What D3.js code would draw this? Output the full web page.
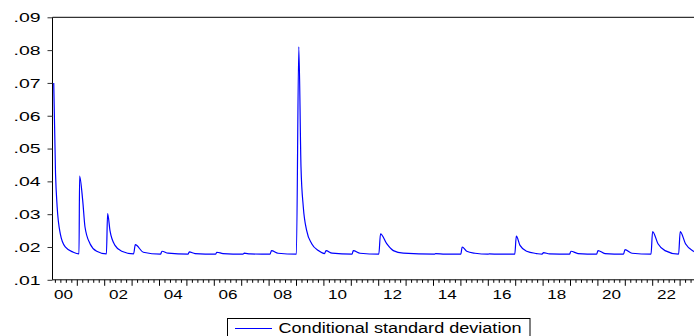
<!DOCTYPE html>
<html>
<head>
<meta charset="utf-8">
<script src="https://cdn.jsdelivr.net/npm/d3@7/dist/d3.min.js"></script>
<style>
  html, body { margin: 0; padding: 0; background: #fff; }
  svg { display: block; }
  text { font-family: "Liberation Sans", Arial, sans-serif; fill: #000; }
</style>
</head>
<body>
<svg id="chart" width="694" height="336"></svg>
<script>
// ---- Data ----
// time in fractional years, conditional standard deviation
const times = [
  2000.140, 2000.205, 2000.265, 2000.380, 2000.560, 2000.854, 2001.062,
  2001.084, 2001.197, 2001.281, 2001.464, 2001.708, 2002.062,
  2002.106, 2002.193, 2002.376, 2002.620, 2003.055,
  2003.117, 2003.409, 2004.036,
  2004.091, 2004.310, 2005.040,
  2005.088, 2005.296, 2006.044,
  2006.095, 2006.318, 2007.047,
  2007.095, 2007.303, 2008.033,
  2008.088, 2008.325, 2008.996,
  2009.084, 2009.164, 2009.248, 2009.372, 2009.555, 2009.796, 2010.022,
  2010.077, 2010.296, 2011.026,
  2011.073, 2011.318, 2012.004,
  2012.066, 2012.292, 2012.533, 2012.898, 2014.022,
  2014.077, 2014.420, 2014.996,
  2015.047, 2015.212, 2015.515, 2015.989,
  2016.040, 2016.400, 2016.967,
  2017.022, 2017.157, 2017.401, 2017.766, 2017.960,
  2018.015, 2018.230, 2018.964,
  2019.018, 2019.274, 2019.953,
  2020.004, 2020.259, 2020.934,
  2020.989, 2021.245, 2021.938,
  2021.996, 2022.193, 2022.449, 2022.945,
  2023.004, 2023.197, 2023.471, 2023.726
];
const condSD = [
  0.0700, 0.0425, 0.0322, 0.0240, 0.0200, 0.0184, 0.0179,
  0.0416, 0.0342, 0.0261, 0.0210, 0.0187, 0.0179,
  0.0302, 0.0250, 0.0205, 0.0187, 0.0179,
  0.0207, 0.0184, 0.0178,
  0.0187, 0.0181, 0.0178,
  0.0185, 0.0180, 0.0178,
  0.0184, 0.0180, 0.0178,
  0.0181, 0.0179, 0.0178,
  0.0189, 0.0181, 0.0178,
  0.0810, 0.0444, 0.0322, 0.0250, 0.0210, 0.0189, 0.0180,
  0.0189, 0.0181, 0.0178,
  0.0189, 0.0181, 0.0178,
  0.0240, 0.0210, 0.0189, 0.0181, 0.0178,
  0.0180, 0.0178, 0.0178,
  0.0200, 0.0187, 0.0181, 0.0178,
  0.0179, 0.0178, 0.0178,
  0.0233, 0.0205, 0.0187, 0.0180, 0.0178,
  0.0183, 0.0179, 0.0178,
  0.0187, 0.0180, 0.0178,
  0.0189, 0.0180, 0.0178,
  0.0192, 0.0181, 0.0178,
  0.0247, 0.0210, 0.0189, 0.0178,
  0.0247, 0.0210, 0.0188, 0.0181
];
const yTicks = [0.01, 0.02, 0.03, 0.04, 0.05, 0.06, 0.07, 0.08, 0.09];
const yTickLabels = [".01", ".02", ".03", ".04", ".05", ".06", ".07", ".08", ".09"];
const yearLabels = ["00", "02", "04", "06", "08", "10", "12", "14", "16", "18", "20", "22"];
const labelYears = [2000, 2002, 2004, 2006, 2008, 2010, 2012, 2014, 2016, 2018, 2020, 2022];
const seriesName = "Conditional standard deviation";

// ---- Layout ----
const svg = d3.select("#chart");
const plotLeft = 52.5, plotTop = 17.3, plotBottom = 279.8;
const x = d3.scaleLinear().domain([2000, 2024]).range([49.9, 49.9 + 24 * 27.4]);
const y = d3.scaleLinear().domain([0.01, 0.09]).range([plotBottom, plotTop]);

const data = times.map((t, i) => ({ t, v: condSD[i] }));

svg.append("defs").append("clipPath").attr("id", "clip")
  .append("rect").attr("x", plotLeft).attr("y", plotTop - 5)
  .attr("width", 694 - plotLeft).attr("height", plotBottom - plotTop + 5);

// series line
const line = d3.line().x(d => x(d.t)).y(d => y(d.v)).curve(d3.curveMonotoneX);
svg.append("path").datum(data)
  .attr("clip-path", "url(#clip)")
  .attr("d", line)
  .attr("fill", "none")
  .attr("stroke", "#0000ff")
  .attr("stroke-width", 1.2)
  .attr("stroke-linejoin", "round");

// frame: top border, left axis, bottom axis
svg.append("line").attr("x1", plotLeft).attr("x2", 694).attr("y1", plotTop).attr("y2", plotTop)
  .attr("stroke", "#000").attr("stroke-width", 1);
svg.append("line").attr("x1", plotLeft).attr("x2", 694).attr("y1", plotBottom).attr("y2", plotBottom)
  .attr("stroke", "#000").attr("stroke-width", 1);
svg.append("line").attr("x1", plotLeft).attr("x2", plotLeft).attr("y1", plotTop).attr("y2", plotBottom)
  .attr("stroke", "#000").attr("stroke-width", 1);

// y axis ticks + labels
const yAxis = d3.axisLeft(y).tickValues(yTicks).tickSize(5).tickPadding(7)
  .tickFormat((d, i) => yTickLabels[i]);
const gy = svg.append("g").attr("transform", `translate(${plotLeft},0)`).call(yAxis);
gy.select(".domain").remove();
gy.selectAll(".tick line").attr("stroke", "#333");
gy.selectAll(".tick text")
  .attr("font-size", 13.5)
  .attr("font-family", "Liberation Sans, Arial, sans-serif")
  .attr("fill", "#000")
  .attr("textLength", 27)
  .attr("lengthAdjust", "spacingAndGlyphs");

// x axis: major ticks at year starts, minor every 1/5 year
const majorTicks = d3.range(2001, 2025);
const minorTicks = [];
for (let yr = 2000; yr < 2025; yr++) for (let k = 1; k < 5; k++) minorTicks.push(yr + k / 5);
const gx = svg.append("g");
gx.selectAll("line.major").data(majorTicks.filter(t => x(t) > plotLeft && x(t) < 694)).join("line")
  .attr("x1", d => x(d)).attr("x2", d => x(d))
  .attr("y1", plotBottom).attr("y2", plotBottom + 6)
  .attr("stroke", "#000").attr("stroke-width", 1);
gx.selectAll("line.minor").data(minorTicks.filter(t => x(t) > plotLeft + 1 && x(t) < 694)).join("line")
  .attr("x1", d => x(d)).attr("x2", d => x(d))
  .attr("y1", plotBottom).attr("y2", plotBottom + 3)
  .attr("stroke", "#000").attr("stroke-width", 1);
gx.selectAll("text").data(labelYears).join("text")
  .attr("x", d => x(d + 0.5))
  .attr("y", 299)
  .attr("text-anchor", "middle")
  .attr("font-size", 13.5)
  .attr("textLength", 19)
  .attr("lengthAdjust", "spacingAndGlyphs")
  .text((d, i) => yearLabels[i]);

// legend
const lg = svg.append("g");
lg.append("rect").attr("x", 227.5).attr("y", 318.5).attr("width", 302.5).attr("height", 22)
  .attr("fill", "#fff").attr("stroke", "#000").attr("stroke-width", 1);
lg.append("line").attr("x1", 235).attr("x2", 272).attr("y1", 328.5).attr("y2", 328.5)
  .attr("stroke", "#0000ff").attr("stroke-width", 1.2);
lg.append("text").attr("x", 278.5).attr("y", 333)
  .attr("font-size", 14)
  .attr("textLength", 243)
  .attr("lengthAdjust", "spacingAndGlyphs")
  .text(seriesName);
</script>
</body>
</html>
